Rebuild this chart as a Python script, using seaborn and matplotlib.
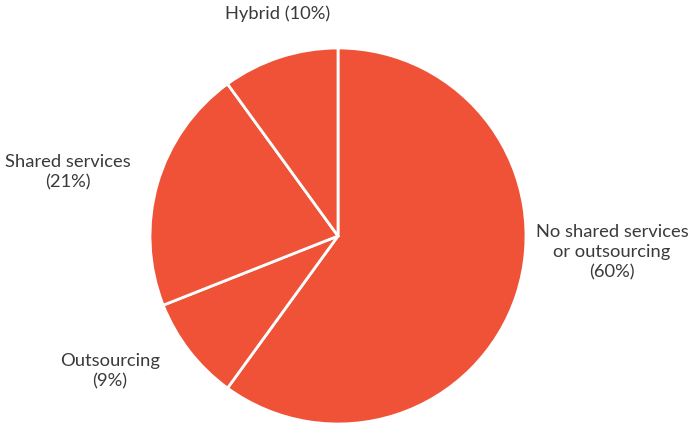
import matplotlib
matplotlib.use("Agg")
import matplotlib.pyplot as plt
import seaborn as sns

# data
categorias = ["No shared services\nor outsourcing", "Outsourcing", "Shared services", "Hybrid"]
valores = [60, 9, 21, 10]

sns.set_theme(style="white")
plt.rcParams['font.family'] = ['Lato', 'DejaVu Sans']

color_slice = "#EF5237"
color_texto = "#3a3a3a"

fig = plt.figure(figsize=(6.96, 4.25), dpi=100)
ax = fig.add_axes([(338 - 188) / 696, (425 - 236 - 188) / 425, 376 / 696, 376 / 425])

wedges, _ = ax.pie(valores, colors=[color_slice] * len(valores), startangle=90,
                   counterclock=False, radius=1.0,
                   wedgeprops=dict(edgecolor="white", linewidth=2))
ax.set_xlim(-1, 1)
ax.set_ylim(-1, 1)
ax.set_aspect("equal")
ax.axis("off")

# label positions (data units, radius = 1)
posiciones = [(1.457, -0.085), (-1.213, -0.72), (-1.436, 0.34), (-0.32, 1.18)]

for cat, val, (x, y) in zip(categorias, valores, posiciones):
    if cat == "Hybrid":
        texto = f"{cat} ({val}%)"
    else:
        texto = f"{cat}\n({val}%)"
    ax.text(x, y, texto, ha="center", va="center", fontsize=13.2,
            color=color_texto, linespacing=1.3, clip_on=False)

fig.savefig("out.png", dpi=100)
